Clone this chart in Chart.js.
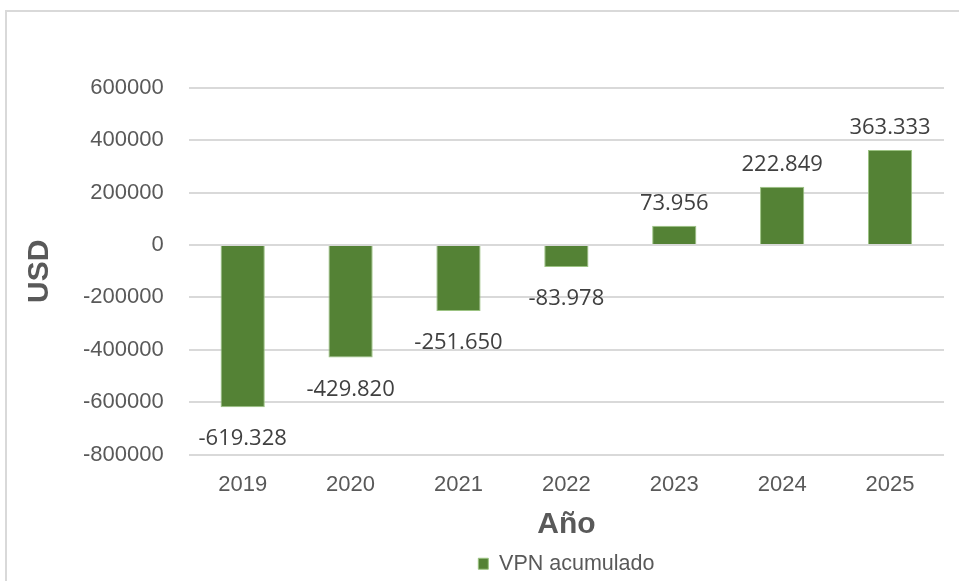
<!DOCTYPE html>
<html>
<head>
<meta charset="utf-8">
<script src="https://cdn.jsdelivr.net/npm/chart.js@4"></script>
<style>
  html, body { margin: 0; padding: 0; background: #fff; overflow: hidden; }
  #wrap { position: relative; width: 959px; height: 581px; }
  #frame { position: absolute; left: 5px; top: 10px; width: 1000px; height: 620px; border: 2px solid #d9d9d9; box-sizing: border-box; }
  canvas { position: absolute; left: 0; top: 0; }
</style>
</head>
<body>
<div id="wrap">
  <div id="frame"></div>
  <canvas id="chart" width="959" height="581"></canvas>
</div>
<script>
const years = ['2019', '2020', '2021', '2022', '2023', '2024', '2025']
const vpnAcumulado = [-619328, -429820, -251650, -83978, 73956, 222849, 363333]
const yTicks = { min: -800000, max: 600000, step: 200000 }

const grey = '#595959'

// excel style labels: 1.234.567
const fmt = v => {
    const s = Math.abs(v).toString().replace(/\B(?=(\d{3})+(?!\d))/g, '.')
    return (v < 0 ? '-' : '') + s
}

const barLabels = {
    id: 'barLabels',
    afterDatasetsDraw(chart) {
        const ctx = chart.ctx
        const meta = chart.getDatasetMeta(0)
        ctx.save()
        ctx.font = '22px "Open Sans"'
        ctx.fillStyle = '#404040'
        ctx.textAlign = 'center'
        ctx.textBaseline = 'alphabetic'
        meta.data.forEach((bar, i) => {
            const v = chart.data.datasets[0].data[i]
            const y = v < 0 ? bar.y + 38 : bar.y - 16
            ctx.fillText(fmt(v), bar.x, y)
        })
        ctx.restore()
    }
}

const ctx = document.getElementById('chart').getContext('2d')
const chart = new Chart(ctx, {
    type: 'bar',
    data: {
        labels: years,
        datasets: [{
            label: 'VPN acumulado',
            data: vpnAcumulado,
            backgroundColor: '#548235',
            borderColor: '#9cc383',
            borderWidth: 1,
            barPercentage: 0.41,
            categoryPercentage: 1
        }]
    },
    options: {
        responsive: false,
        animation: false,
        layout: {
            padding: { top: 88, right: 15, left: 22, bottom: -3.5 }
        },
        scales: {
            x: {
                grid: { display: false, drawTicks: false },
                border: { display: false },
                ticks: {
                    color: grey,
                    padding: 17.5,
                    font: { family: '"Liberation Sans", Arial', size: 22 }
                },
                title: {
                    display: true,
                    text: 'Año',
                    color: grey,
                    padding: { top: -9.4, bottom: 6 },
                    font: { family: '"Liberation Sans", Arial', size: 30, weight: 'bold' }
                }
            },
            y: {
                min: yTicks.min,
                max: yTicks.max,
                grid: { color: '#d9d9d9', lineWidth: 2, drawTicks: false },
                border: { display: false },
                ticks: {
                    stepSize: yTicks.step,
                    color: grey,
                    padding: 25,
                    font: { family: '"Liberation Sans", Arial', size: 22 },
                    callback: v => String(v)
                },
                title: {
                    display: true,
                    text: 'USD',
                    color: grey,
                    padding: { top: 0, bottom: 0 },
                    font: { family: '"Liberation Sans", Arial', size: 30, weight: 'bold' }
                }
            }
        },
        plugins: {
            legend: {
                position: 'bottom',
                fullSize: false,
                labels: {
                    boxWidth: 10,
                    boxHeight: 11,
                    padding: 4.5,
                    color: grey,
                    font: { family: '"Liberation Sans", Arial', size: 21.5 }
                }
            },
            tooltip: { enabled: false }
        }
    },
    plugins: [barLabels]
})
</script>
</body>
</html>
